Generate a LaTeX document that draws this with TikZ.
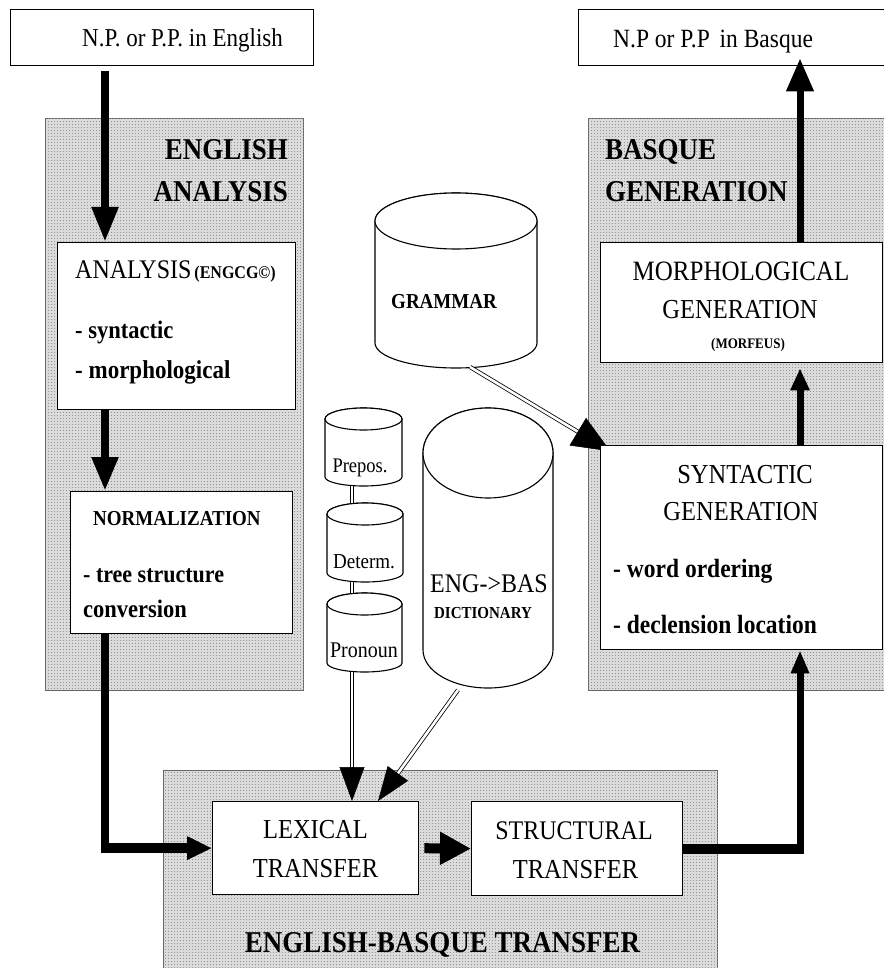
\documentclass[tikz,border=0pt]{standalone}
\usepackage{fontspec}
\setmainfont{Liberation Serif}
\usepackage{graphicx}
\usetikzlibrary{arrows.meta,calc,patterns.meta}

% fine dot screen used as the stage shading
\tikzdeclarepattern{
  name=dotscreen,
  type=uncolored,
  bounding box={(0pt,0pt) and (3pt,3pt)},
  tile size={(3pt,3pt)},
  code={\fill (0pt,0pt) rectangle (1pt,1pt);}
}

% cylinder (database drum): name, centre x, top y, lowest y, x radius, top y radius, bottom y radius
\newcommand\dbcyl[7]{%
  \pgfmathsetmacro\cylTop{#3+#6}%
  \pgfmathsetmacro\cylBot{#4-#7}%
  \filldraw[cyl] (#2-#5,\cylTop) -- (#2-#5,\cylBot)
     arc[start angle=180, end angle=0, x radius=#5, y radius=#7]
     -- (#2+#5,\cylTop)
     arc[start angle=0, end angle=-180, x radius=#5, y radius=#6] -- cycle;
  \draw[cyl] (#2,\cylTop) ellipse[x radius=#5, y radius=#6];
  \coordinate (#1-t) at (#2,#3);
  \coordinate (#1-b) at (#2,#4);
}
% slightly tall lettering
\newcommand\tall[1]{\scalebox{1}[1.12]{#1}}

\begin{document}
\begin{tikzpicture}[x=1pt,y=-1pt,
  panel/.style={draw=black!60, line width=1.2pt, fill=black!14, inner sep=0pt, anchor=north west,
                postaction={pattern=dotscreen, pattern color=black!42}},
  blk/.style={draw=black, line width=1.3pt, fill=white, inner sep=0pt, anchor=north west},
  cyl/.style={draw=black, line width=1.1pt, fill=white},
  tx/.style={inner sep=0pt, anchor=base},
  reg/.style={tx, font=\fontsize{#1}{#1}\selectfont},
  bld/.style={tx, font=\fontsize{#1}{#1}\selectfont\bfseries},
  dbl/.style={draw=black, double=white, double distance=2.6pt, line width=0.8pt},
]
\useasboundingbox (0,0) rectangle (883,968);

% ---- shaded stages
\node[panel, minimum width=258pt, minimum height=572pt] (engP) at (45,118) {};
\node[panel, minimum width=320pt, minimum height=572pt] (basP) at (588,118) {};
\node[panel, minimum width=554pt, minimum height=220pt] (trP) at (163,770) {};

% ---- knowledge bases
\dbcyl{gram}{456}{193}{368}{81}{28}{25}
\dbcyl{prep}{363.5}{408}{486}{38.5}{11}{9}
\dbcyl{detm}{365}{503}{582}{38}{11}{9}
\dbcyl{pron}{364.5}{593}{672}{37.5}{11}{9}
\dbcyl{dict}{488}{408}{688}{65}{45}{38}

% grammar feeds syntactic generation (tip tucked under the box corner)
\coordinate (synNW) at (600,445);
\coordinate (gram-o) at (470,367);
\coordinate (gtip) at ($(gram-o)!1.08!(synNW)$);
\draw[dbl, shorten >=34pt] (gram-o) -- (gtip);
\draw[line width=0.5pt, -{Triangle[width=32pt,length=38pt]}] ($(gtip)!38pt!(gram-o)$) -- (gtip);

% ---- boxes
\node[blk, minimum width=303pt, minimum height=56pt] (npEn) at (10,9) {};
\node[blk, minimum width=330pt, minimum height=56pt] (npBa) at (578,9) {};
\node[blk, minimum width=238pt, minimum height=167pt] (ana) at (57,242) {};
\node[blk, minimum width=222pt, minimum height=142pt] (norm) at (70,491) {};
\node[blk, minimum width=282pt, minimum height=120pt] (morph) at (600,242) {};
\node[blk, minimum width=282pt, minimum height=204pt] (syn) at (synNW) {};
\node[blk, minimum width=206pt, minimum height=93pt] (lex) at (212,801) {};
\node[blk, minimum width=211pt, minimum height=94pt] (str) at (471,801) {};

% ---- texts
\node[reg=23, anchor=base west] (tEn) at (82,47) {\tall{N.P. or P.P. in English}};
\node[reg=23.5, anchor=base west] (tBa) at (613,48) {\tall{N.P or P.P\, in Basque}};

\node[bld=27, anchor=base east] (tEA1) at (288,160) {\tall{ENGLISH}};
\node[bld=27, anchor=base east] (tEA2) at (288,202) {\tall{ANALYSIS}};
\node[bld=27, anchor=base west] (tBG1) at (605,160) {\tall{BASQUE}};
\node[bld=27, anchor=base west] (tBG2) at (605,202) {\tall{GENERATION}};

\node[reg=24, anchor=base west] (tAna) at (75,278)
  {\tall{ANALYSIS\hspace{3pt}{\fontsize{16}{16}\selectfont\bfseries (ENGCG\textcopyright)}}};
\node[bld=22.5, anchor=base west] (tSyn) at (75,338) {\tall{- syntactic}};
\node[bld=23, anchor=base west] (tMor) at (75,378) {\tall{- morphological}};

\node[bld=19, anchor=base west] (tNorm) at (93,525) {\tall{NORMALIZATION}};
\node[bld=22, anchor=base west] (tTree) at (83,582) {\tall{- tree structure}};
\node[bld=22.5, anchor=base west] (tConv) at (83,617) {\tall{conversion}};

\node[reg=25] (tMG1) at (741,280) {\tall{MORPHOLOGICAL}};
\node[reg=24.5] (tMG2) at (740,318) {\tall{GENERATION}};
\node[bld=13] (tMG3) at (748,348) {\tall{(MORFEUS)}};

\node[reg=24.5] (tSG1) at (745,483) {\tall{SYNTACTIC}};
\node[reg=24.5] (tSG2) at (741,520) {\tall{GENERATION}};
\node[bld=23.5, anchor=base west] (tSG3) at (613,577) {\tall{- word ordering}};
\node[bld=23.5, anchor=base west] (tSG4) at (613,633) {\tall{- declension location}};

\node[bld=19] (tGram) at (444,308) {\tall{GRAMMAR}};
\node[reg=18.5] (tPrep) at (360,472) {\tall{Prepos.}};
\node[reg=19] (tDetm) at (364,568) {\tall{Determ.}};
\node[reg=20] (tPron) at (364,657) {\tall{Pronoun}};
\node[reg=24] (tDict1) at (489,592) {\tall{ENG->BAS}};
\node[bld=15] (tDict2) at (483,618) {\tall{DICTIONARY}};

\node[reg=24.5] (tLex1) at (315.5,838) {\tall{LEXICAL}};
\node[reg=24.5] (tLex2) at (315.5,877) {\tall{TRANSFER}};
\node[reg=24] (tStr1) at (574,839) {\tall{STRUCTURAL}};
\node[reg=24.5] (tStr2) at (575.5,878) {\tall{TRANSFER}};
\node[bld=27] (tTr) at (442.5,952) {\tall{ENGLISH-BASQUE TRANSFER}};

% ---- main flow
\coordinate (xa) at (105,0);
\coordinate (xb) at (800,0);
\coordinate (xc) at (352,0);
\coordinate (xl) at (378,0);

\draw[line width=8pt, -{Triangle[width=25pt,length=35pt]}, shorten <=5pt]
  (npEn.south -| xa) -- (ana.north -| xa);
\draw[line width=8pt, -{Triangle[width=25pt,length=34pt]}]
  (ana.south -| xa) -- (norm.north -| xa);

\coordinate (cl) at (lex.west -| xa);
\draw[line width=7.5pt] (norm.south -| xa) -- ($(cl)+(0,-4)$);
\draw[line width=10pt, -{Triangle[width=22pt,length=25pt]}] ($(cl)+(-3.75,0)$) -- (lex.west);

\draw[line width=10pt, -{Triangle[width=31pt,length=31pt]}, shorten <=5pt] (lex.east) -- (str.west);

\coordinate (cr) at (str.east -| xb);
\draw[line width=10pt] (str.east) -- ($(cr)+(3.5,0)$);
\draw[line width=7pt, -{Triangle[width=17pt,length=23pt]}] ($(cr)+(0,5)$) -- (syn.south -| xb);
\draw[line width=7pt, -{Triangle[width=18pt,length=22pt]}, shorten >=5pt]
  (syn.north -| xb) -- (morph.south -| xb);
\draw[line width=7pt, -{Triangle[width=26pt,length=33pt]}, shorten >=-8pt]
  (morph.north -| xb) -- (npBa.south -| xb);

% ---- lexicon chain and dictionary into lexical transfer
\draw[dbl] (prep-b -| xc) -- (detm-t -| xc);
\draw[dbl] (detm-b -| xc) -- (pron-t -| xc);

\coordinate (lxc) at (lex.north -| xc);
\draw[dbl, shorten >=30pt] (pron-b -| xc) -- (lxc);
\draw[line width=0.5pt, -{Triangle[width=25pt,length=34pt]}] ($(lxc)+(0,-34)$) -- (lxc);

\coordinate (dict-o) at (458,690);
\coordinate (lxl) at (lex.north -| xl);
\draw[dbl, shorten >=30pt] (dict-o) -- (lxl);
\draw[line width=0.5pt, -{Triangle[width=25pt,length=34pt]}] ($(lxl)!34pt!(dict-o)$) -- (lxl);
\end{tikzpicture}
\end{document}
